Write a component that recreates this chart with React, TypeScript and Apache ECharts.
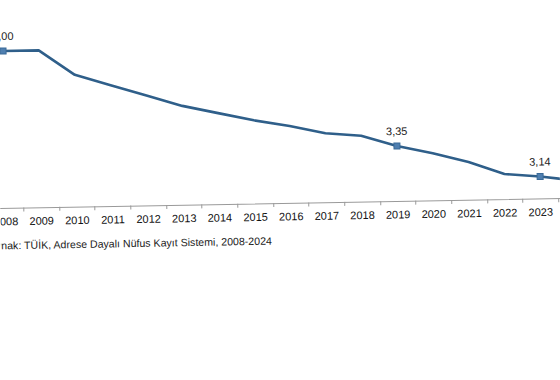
import React, { useEffect, useRef } from "react";
import * as echarts from "echarts";

const years = ["2008","2009","2010","2011","2012","2013","2014","2015","2016","2017","2018","2019","2020","2021","2022","2023","2024"];
const values = [4.0, 4.0, 3.84, 3.77, 3.7, 3.63, 3.58, 3.53, 3.49, 3.44, 3.42, 3.35, 3.3, 3.24, 3.16, 3.14, 3.11];
const labeledYears = ["2008", "2019", "2023", "2024"];
const sourceText = "Kaynak: TÜİK, Adrese Dayalı Nüfus Kayıt Sistemi, 2008-2024";

export default function App() {
  const ref = useRef<HTMLDivElement>(null);
  useEffect(() => {
    if (!ref.current) return;
    const chart = echarts.init(ref.current, null, { renderer: "svg" });
    const data = values.map((v, i) => {
      const lab = labeledYears.includes(years[i]);
      return lab
        ? { value: v, symbol: "rect", symbolSize: 6, label: { show: true } }
        : { value: v, symbol: "none" };
    });
    chart.setOption({
      animation: false,
      backgroundColor: "#ffffff",
      grid: {
        left: -12.3,
        right: -33.8,
        top: 14.8,
        bottom: 177,
        containLabel: false,
        outerBoundsMode: "none",
      },
      xAxis: {
        type: "category",
        data: years,
        boundaryGap: true,
        axisLine: { show: true, lineStyle: { color: "#9a9a9a", width: 1 } },
        axisTick: { show: true, length: 4, lineStyle: { color: "#9a9a9a" } },
        axisLabel: {
          interval: 0,
          margin: 8,
          fontSize: 11,
          color: "#111111",
          fontFamily: "Liberation Sans, Arial, sans-serif",
        },
        splitLine: { show: false },
      },
      yAxis: {
        type: "value",
        min: 3.0,
        max: 4.2,
        show: false,
        splitLine: { show: false },
      },
      series: [
        {
          type: "line",
          data,
          showSymbol: true,
          lineStyle: { color: "#2f5f8a", width: 2.6 },
          itemStyle: { color: "#4f7fb0", borderColor: "#3a6a98", borderWidth: 1 },
          label: {
            show: false,
            position: "top",
            distance: 6,
            fontSize: 11,
            color: "#222222",
            fontFamily: "Liberation Sans, Arial, sans-serif",
            formatter: (p: any) => Number(p.value).toFixed(2).replace(".", ","),
          },
        },
      ],
      graphic: [
        {
          type: "text",
          x: 271,
          y: 240.5,
          style: {
            text: sourceText,
            align: "right",
            verticalAlign: "middle",
            fontSize: 10.6,
            fill: "#222222",
            fontFamily: "Liberation Sans, Arial, sans-serif",
          },
        },
      ],
    });
    return () => chart.dispose();
  }, []);
  return (
    <div
      ref={ref}
      style={{
        position: "absolute",
        left: 0,
        top: 0,
        width: 560,
        height: 380,
        transform: "rotate(-1deg)",
        transformOrigin: "280px 190px",
      }}
    />
  );
}
